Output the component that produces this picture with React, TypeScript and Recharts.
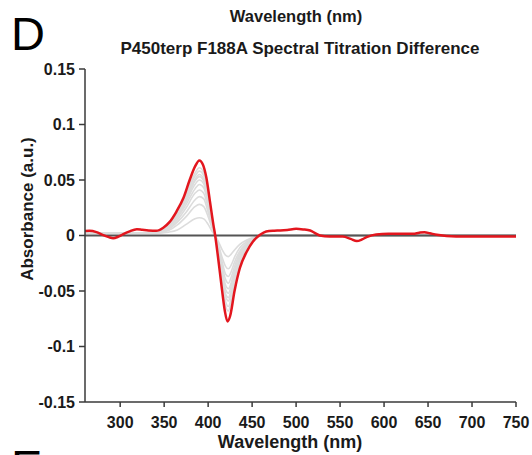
import * as React from 'react';
import { Line, LineChart, XAxis, YAxis } from 'recharts';

// final spectrum (red)
const finalWavelengths = [
  260, 265, 273, 280, 287, 292, 298, 303, 310, 319, 325, 332, 341, 349, 356, 364, 372, 379, 385, 390, 394, 398, 402,
  406, 408, 411, 415, 419, 422, 425, 430, 436, 444, 451, 459, 466, 475, 482, 490, 500, 508, 516, 522, 527, 538, 553,
  562, 569, 575, 580, 591, 605, 620, 633, 640, 646, 652, 660, 682, 709, 750,
];
const finalAbsorbance = [
  0.004, 0.0042, 0.003, 0.0005, -0.0015, -0.0025, -0.001, 0.001, 0.0035, 0.0057, 0.0052, 0.0046, 0.0042, 0.007, 0.012,
  0.0216, 0.034, 0.05, 0.062, 0.0676, 0.064, 0.052, 0.031, 0.0096, 0, -0.018, -0.044, -0.068, -0.0775, -0.0725, -0.05,
  -0.0295, -0.0144, -0.0054, 0.0006, 0.0036, 0.0043, 0.0045, 0.005, 0.006, 0.0055, 0.0045, 0.002, 0, -0.001, -0.001,
  -0.003, -0.005, -0.0035, -0.0015, 0.001, 0.0015, 0.0015, 0.0015, 0.0025, 0.003, 0.002, 0.0006, -0.001, -0.001, -0.001,
];

// intermediate titration steps (grey)
const stepWavelengths = [260, 340, 355, 365, 375, 385, 390, 395, 400, 405, 408, 412, 416, 420, 423, 426, 430, 436, 444, 452, 462, 750];
const step1 = [0.002, 0.002, 0.003, 0.005, 0.01, 0.015, 0.016, 0.015, 0.01, 0.003, 0, -0.006, -0.013, -0.018, -0.019, -0.017, -0.013, -0.008, -0.004, -0.0015, 0, 0];
const step2 = [0.002, 0.002, 0.0045, 0.0095, 0.017, 0.026, 0.028, 0.026, 0.017, 0.0056, 0, -0.009, -0.02, -0.028, -0.03, -0.027, -0.0195, -0.011, -0.0054, -0.002, 0, 0];
const step3 = [0.002, 0.002, 0.0056, 0.012, 0.021, 0.032, 0.035, 0.033, 0.021, 0.007, 0, -0.011, -0.024, -0.035, -0.037, -0.033, -0.024, -0.014, -0.0067, -0.0024, 0, 0];
const step4 = [0.002, 0.002, 0.0066, 0.014, 0.025, 0.038, 0.041, 0.038, 0.025, 0.008, 0, -0.013, -0.028, -0.04, -0.043, -0.038, -0.028, -0.016, -0.0077, -0.0028, 0, 0];
const step5 = [0.002, 0.002, 0.0074, 0.016, 0.028, 0.042, 0.046, 0.043, 0.028, 0.009, 0, -0.014, -0.032, -0.045, -0.048, -0.043, -0.031, -0.018, -0.0086, -0.003, 0, 0];
const step6 = [0.002, 0.002, 0.008, 0.017, 0.0305, 0.046, 0.05, 0.0465, 0.03, 0.01, 0, -0.0156, -0.034, -0.049, -0.052, -0.046, -0.034, -0.02, -0.0094, -0.0034, 0, 0];
const step7 = [0.002, 0.002, 0.0085, 0.018, 0.032, 0.049, 0.053, 0.049, 0.032, 0.0106, 0, -0.017, -0.037, -0.053, -0.056, -0.05, -0.036, -0.021, -0.01, -0.0036, 0, 0];
const step8 = [0.002, 0.002, 0.0088, 0.0187, 0.0336, 0.0506, 0.055, 0.051, 0.033, 0.011, 0, -0.0177, -0.039, -0.0555, -0.059, -0.0525, -0.0384, -0.0224, -0.0106, -0.0038, 0, 0];
const step9 = [0.002, 0.002, 0.0093, 0.0197, 0.0354, 0.0534, 0.058, 0.054, 0.0348, 0.0116, 0, -0.0192, -0.042, -0.06, -0.064, -0.057, -0.0416, -0.0243, -0.0115, -0.0042, 0, 0];
const step10 = [0.002, 0.002, 0.0098, 0.0207, 0.0372, 0.0561, 0.061, 0.0567, 0.0366, 0.0122, 0, -0.0204, -0.045, -0.064, -0.068, -0.0605, -0.0442, -0.0258, -0.0122, -0.0044, 0, 0];
const titrationSteps = [step1, step2, step3, step4, step5, step6, step7, step8, step9, step10];

const xTicks = [300, 350, 400, 450, 500, 550, 600, 650, 700, 750];
const yTicks = [-0.15, -0.1, -0.05, 0, 0.05, 0.1, 0.15];
const xDomain = [260, 750];

const toPoints = (xs: number[], ys: number[]) => xs.map((x, i) => ({ x, y: ys[i] }));

const font = '"Liberation Sans", Arial, Helvetica, sans-serif';
const axisColor = '#3a3a3a';
const textColor = '#1a1a1a';

export default function App() {
  const finalData = toPoints(finalWavelengths, finalAbsorbance);
  const stepData = titrationSteps.map((s) => toPoints(stepWavelengths, s));
  const zeroData = toPoints(xDomain, [0, 0]);
  const tick = { fontSize: 16, fontWeight: 700, fill: textColor, fontFamily: font };

  return (
    <div style={{ position: 'absolute', left: 0, top: 0, width: 532, height: 455, background: '#fff' }}>
      <LineChart width={532} height={455} margin={{ top: 69, right: 16, bottom: 13, left: 0 }}>
        <XAxis
          dataKey="x"
          type="number"
          domain={xDomain}
          ticks={xTicks}
          allowDataOverflow
          height={40}
          stroke={axisColor}
          strokeWidth={1.5}
          tickSize={5}
          tickMargin={10}
          tick={tick}
        />
        <YAxis
          dataKey="y"
          type="number"
          domain={[-0.15, 0.15]}
          ticks={yTicks}
          allowDataOverflow
          width={85}
          stroke={axisColor}
          strokeWidth={1.5}
          tickSize={6}
          tickMargin={4}
          tick={tick}
        />
        {stepData.map((d, i) => (
          <Line
            key={i}
            data={d}
            dataKey="y"
            type="monotone"
            stroke="#dcdcdc"
            strokeWidth={1.6}
            dot={false}
            activeDot={false}
            isAnimationActive={false}
          />
        ))}
        <Line data={zeroData} dataKey="y" type="linear" stroke="#555" strokeWidth={2} dot={false} activeDot={false} isAnimationActive={false} />
        <Line data={finalData} dataKey="y" type="monotone" stroke="#e3161e" strokeWidth={2.5} dot={false} activeDot={false} isAnimationActive={false} />
      </LineChart>

      <svg width={532} height={455} style={{ position: 'absolute', left: 0, top: 0, pointerEvents: 'none' }}>
        <g fontFamily={font} fill={textColor}>
          <text x={296} y={22} fontSize={16.5} fontWeight={700} textAnchor="middle">Wavelength (nm)</text>
          <text x={11} y={50} fontSize={47} fill="#000">D</text>
          <text x={300} y={54} fontSize={17} fontWeight={700} textAnchor="middle">P450terp F188A Spectral Titration Difference</text>
          <text x={290} y={448} fontSize={18} fontWeight={700} textAnchor="middle">Wavelength (nm)</text>
          <text transform="translate(33 209) rotate(-90)" fontSize={17} fontWeight={700} textAnchor="middle">Absorbance (a.u.)</text>
          <text x={11} y={483} fontSize={47} fill="#000">E</text>
        </g>
      </svg>
    </div>
  );
}
